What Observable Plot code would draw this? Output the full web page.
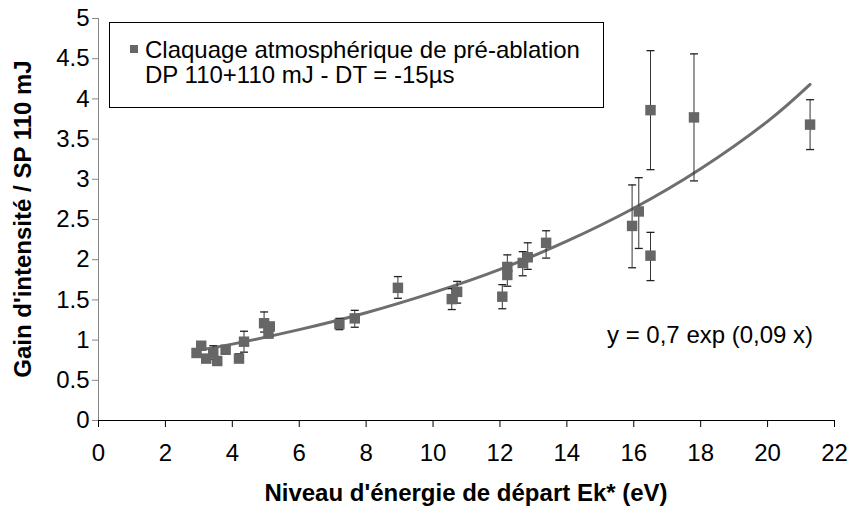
<!DOCTYPE html>
<html><head><meta charset="utf-8">
<script src="https://cdn.jsdelivr.net/npm/d3@7"></script>
<script src="https://cdn.jsdelivr.net/npm/@observablehq/plot@0.6"></script>
<style>
body{margin:0;background:#fff;}
#wrap{position:relative;width:848px;height:508px;font-family:"Liberation Sans",Arial,sans-serif;color:#000;}
</style></head>
<body><div id="wrap"></div>
<script>
// Data
const energy = [2.93,3.07,3.22,3.43,3.55,3.8,4.2,4.35,4.95,5.08,5.12,7.2,7.66,8.95,10.56,10.72,12.07,12.22,12.22,12.68,12.83,13.38,15.95,16.15,16.5,16.5,17.8,21.27];
const gain   = [0.84,0.93,0.77,0.84,0.74,0.88,0.77,0.98,1.21,1.08,1.17,1.2,1.27,1.65,1.51,1.6,1.54,1.91,1.81,1.96,2.03,2.21,2.42,2.6,2.05,3.86,3.77,3.68];
const errLow = [0.80,0.89,0.73,0.76,0.70,0.84,0.73,0.85,1.10,1.04,1.05,1.13,1.16,1.52,1.38,1.46,1.39,1.80,1.67,1.80,1.88,2.02,1.90,2.14,1.74,3.12,2.98,3.37];
const errHigh= [0.88,0.97,0.81,0.93,0.78,0.92,0.83,1.11,1.35,1.12,1.20,1.27,1.37,1.79,1.64,1.73,1.69,2.06,1.95,2.10,2.21,2.36,2.93,3.02,2.34,4.60,4.56,3.99];
// trend line
const fitX = [2.93,4,6,8,10,12,14,16,18,20,21.27];
const fitY = [0.87,0.95,1.13,1.34,1.59,1.88,2.23,2.64,3.13,3.72,4.18];
const xTicks = [0,2,4,6,8,10,12,14,16,18,20,22];
const yTicks = [0,0.5,1,1.5,2,2.5,3,3.5,4,4.5,5];
const xTitle = "Niveau d'énergie de départ Ek* (eV)";
const yTitle = "Gain d'intensité / SP 110 mJ";
const legendLines = ["Claquage atmosphérique de pré-ablation","DP 110+110 mJ - DT = -15µs"];
const equation = "y = 0,7 exp (0,09 x)";

const pts = energy.map((e,i)=>({x:e,y:gain[i],lo:errLow[i],hi:errHigh[i]}));
const fit = fitX.map((x,i)=>({x, y:fitY[i]}));
const cap = {draw(ctx){ctx.moveTo(-4,0);ctx.lineTo(4,0);}};

const chart = Plot.plot({
  width:848, height:508, marginLeft:98, marginRight:14, marginTop:18, marginBottom:88,
  style:{fontFamily:"'Liberation Sans', Arial, sans-serif", fontSize:"24px", color:"#000", background:"#fff", overflow:"visible"},
  x:{domain:[0,22]},
  y:{domain:[0,5]},
  marks:[
    Plot.axisY({ticks:yTicks, tickSize:6, tickPadding:3, tickFormat:d=>String(d), stroke:"#868686", label:null}),
    Plot.axisX({ticks:xTicks, tickSize:7, tickPadding:16, tickFormat:d=>String(d), stroke:"#000", label:null}),
    Plot.ruleX([0], {stroke:"#868686"}),
    Plot.ruleY([0], {stroke:"#000"}),
    Plot.line(fit, {x:"x", y:"y", curve:"natural", stroke:"#6e6e6e", strokeWidth:3}),
    Plot.ruleX(pts, {x:"x", y1:"lo", y2:"hi", stroke:"#333", strokeWidth:1}),
    Plot.dot(pts, {x:"x", y:"lo", symbol:cap, fill:"none", stroke:"#222", strokeWidth:1.3}),
    Plot.dot(pts, {x:"x", y:"hi", symbol:cap, fill:"none", stroke:"#222", strokeWidth:1.3}),
    Plot.dot(pts, {x:"x", y:"y", symbol:"square", r:5.9, fill:"#666666", stroke:"none"})
  ]
});
document.getElementById("wrap").appendChild(chart);
const svg = d3.select(chart);
svg.append("text").attr("x", 466).attr("y", 501).attr("text-anchor","middle")
  .attr("font-weight","bold").attr("font-size","24px").attr("fill","#000").text(xTitle);
svg.append("text").attr("transform","translate(31,219) rotate(-90)").attr("text-anchor","middle")
  .attr("font-weight","bold").attr("font-size","24px").attr("fill","#000").text(yTitle);

// legend box
const lg = svg.append("g").attr("text-anchor","start");
lg.append("rect").attr("x",109.5).attr("y",22.5).attr("width",494).attr("height",85)
  .attr("fill","#fff").attr("stroke","#000").attr("stroke-width",1);
lg.append("rect").attr("x",130).attr("y",45).attr("width",8).attr("height",8).attr("fill","#666");
lg.append("text").attr("x",145).attr("y",58).attr("font-size","24px").attr("fill","#000").text(legendLines[0]);
lg.append("text").attr("x",145).attr("y",83).attr("font-size","24px").attr("fill","#000").text(legendLines[1]);
// equation annotation
svg.append("text").attr("x",607).attr("y",343).attr("text-anchor","start").attr("font-size","24px").attr("fill","#000").text(equation);
</script></body></html>
